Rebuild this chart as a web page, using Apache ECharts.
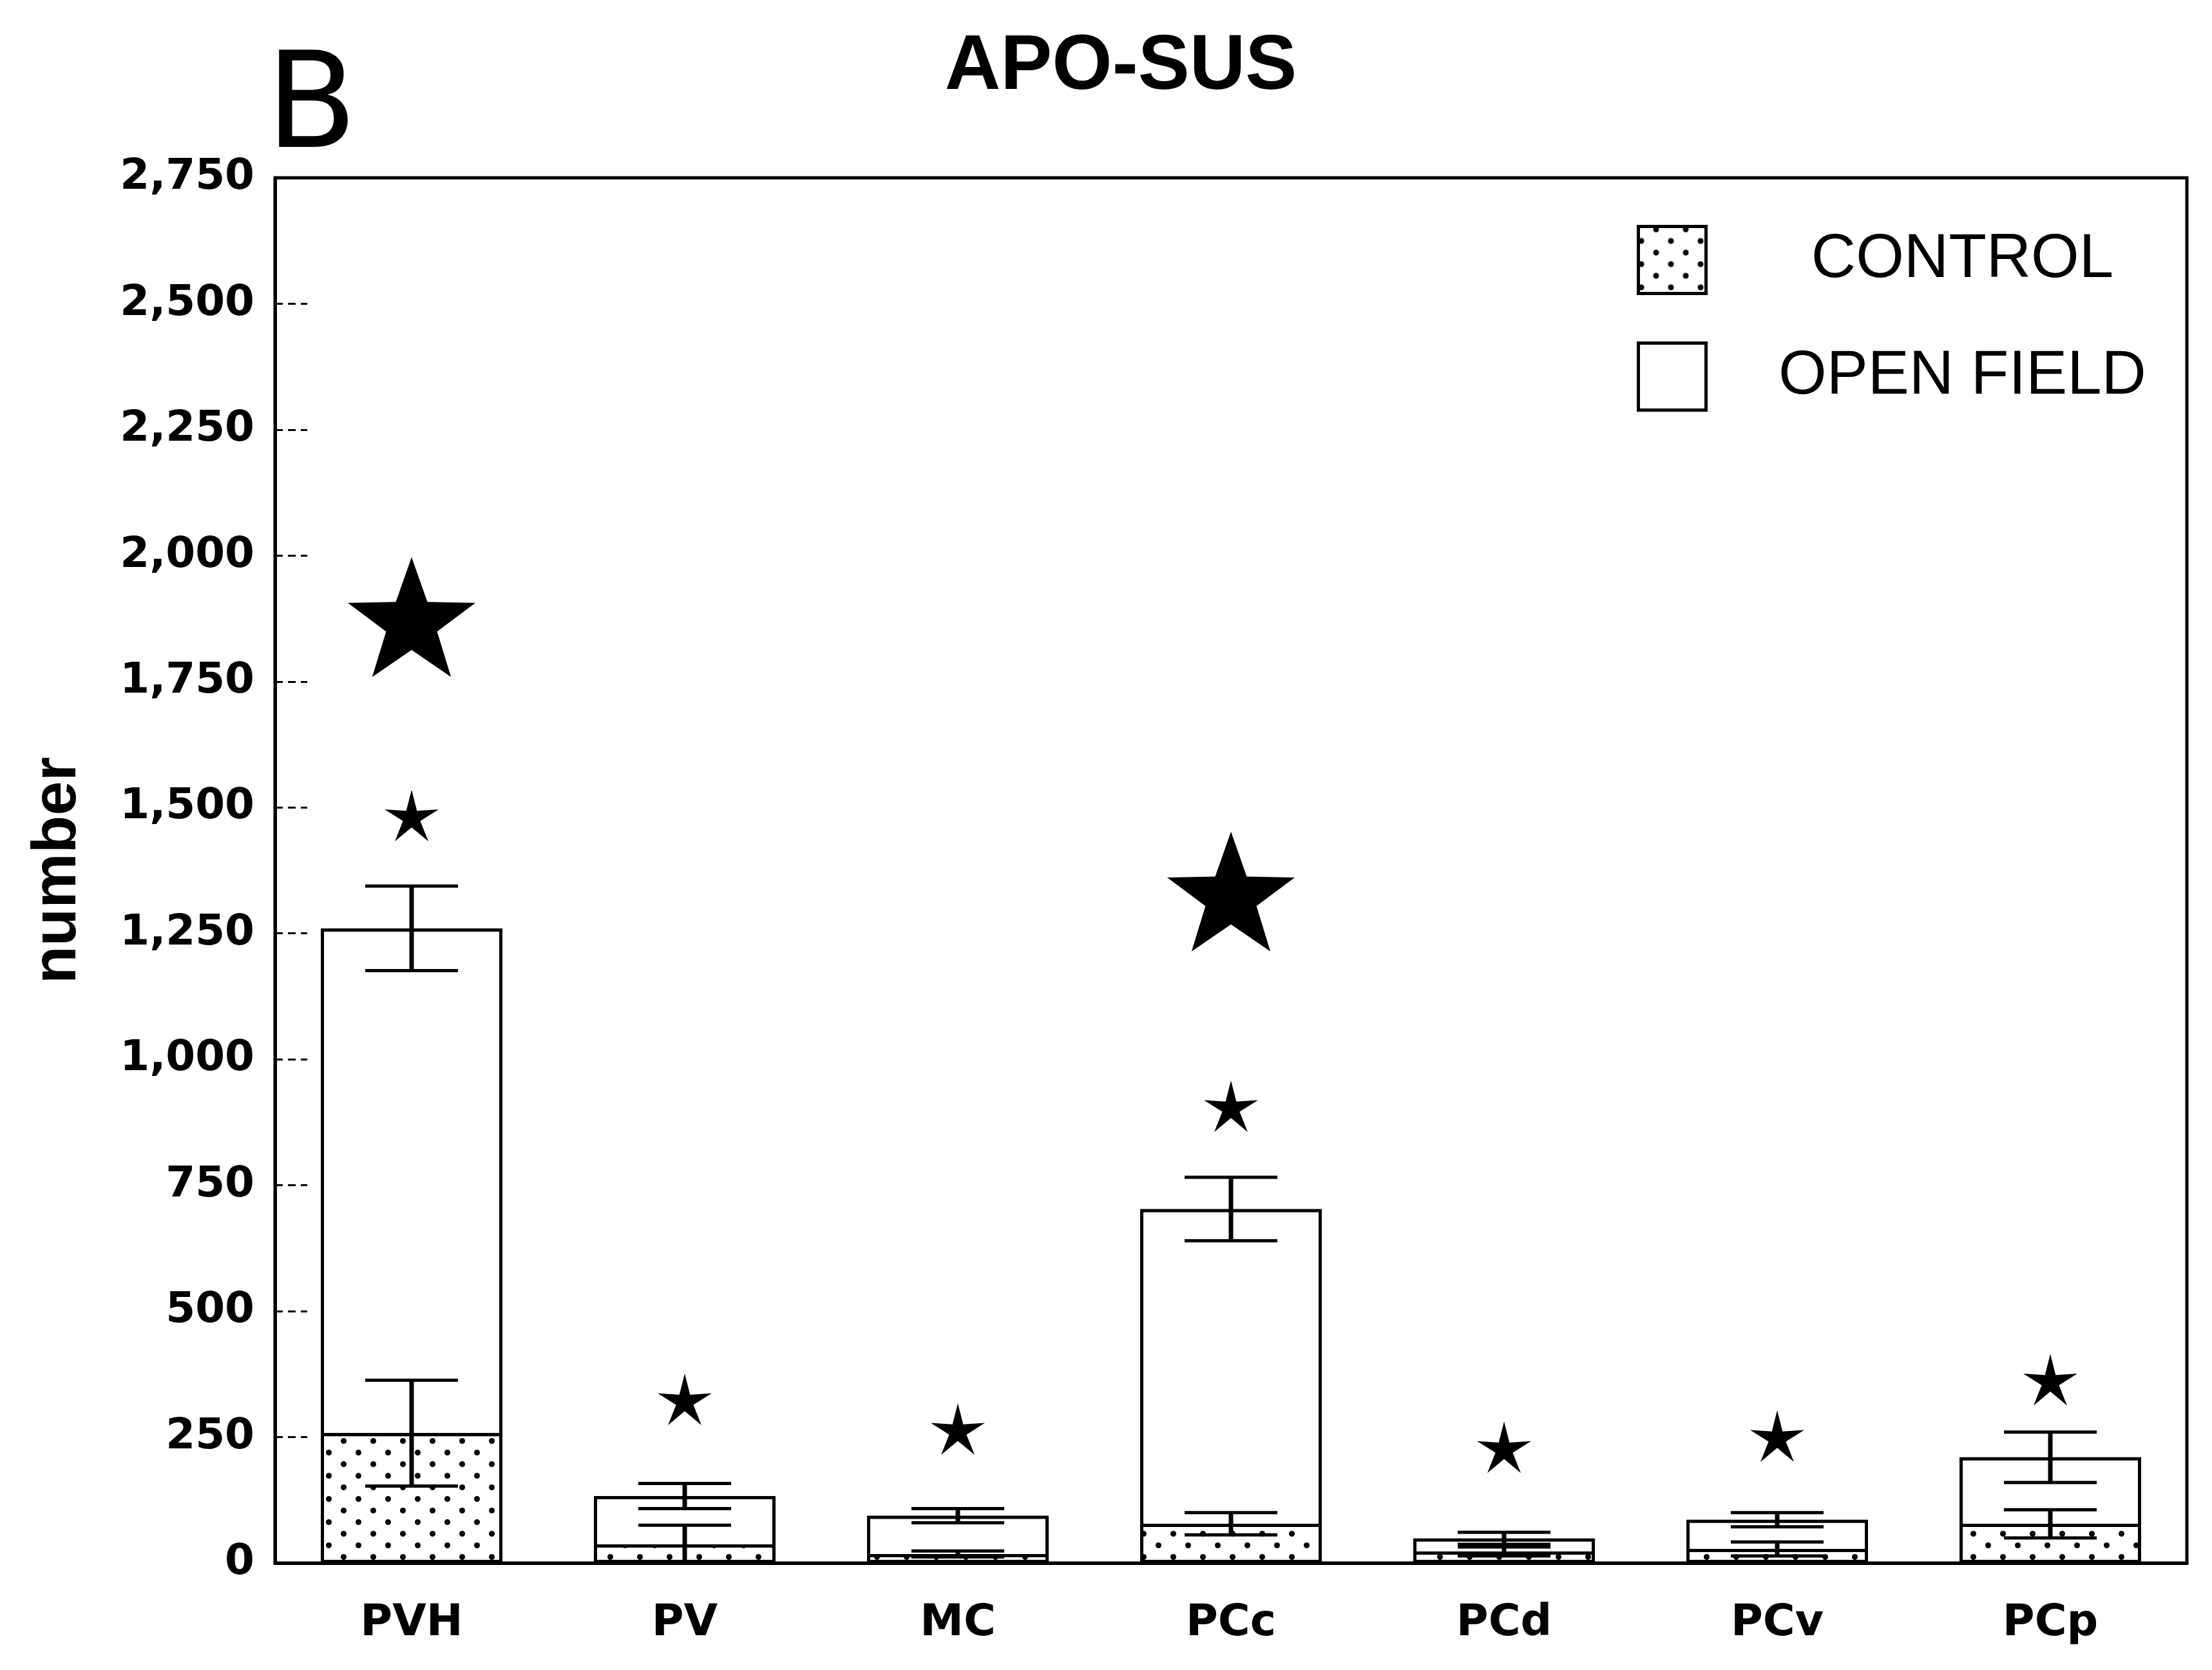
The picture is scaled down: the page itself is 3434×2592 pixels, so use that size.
<!DOCTYPE html>
<html>
<head>
<meta charset="utf-8">
<title>APO-SUS</title>
<script src="https://cdn.jsdelivr.net/npm/echarts@6/dist/echarts.min.js"></script>
<style>
  html, body { margin: 0; padding: 0; background: #fff; }
  #chart { width: 3434px; height: 2592px; }
</style>
</head>
<body>
<div id="chart"></div>
<script>
// Regions of the paraventricular nucleus
const categories = ['PVH', 'PV', 'MC', 'PCc', 'PCd', 'PCv', 'PCp'];

// Mean number of labelled cells and SEM per group
const openField    = [1260, 133, 94, 703, 49, 86, 210];
const openFieldSem = [84, 25, 14, 63, 12, 14, 50];
const control      = [258, 37, 18, 78, 23, 28, 78];
const controlSem   = [105, 38, 6, 22, 9, 14, 28];

// Significance markers (height in data units, '-' where absent)
const bigStarY  = [1878, '-', '-', 1333, '-', '-', '-'];
const asteriskY = [1484, 325, 266, 907, 230, 252, 364];

// Y axis tick labels
const yTickLabels = ['0', '250', '500', '750', '1,000', '1,250', '1,500',
                     '1,750', '2,000', '2,250', '2,500', '2,750'];

// five-pointed star outline in a 100x100 box
function starPath(innerRatio) {
  const pts = [];
  for (let k = 0; k < 10; k++) {
    const r = (k % 2 === 0 ? 50 : 50 * innerRatio);
    const a = -Math.PI / 2 + k * Math.PI / 5;
    pts.push((50 + r * Math.cos(a)).toFixed(2) + ' ' + (50 + r * Math.sin(a)).toFixed(2));
  }
  return 'path://M' + pts.join(' L') + ' Z';
}

const chart = echarts.init(document.getElementById('chart'), null, { renderer: 'canvas' });

const dots = {
  symbol: 'circle',
  symbolSize: 1,
  color: '#000',
  backgroundColor: '#fff',
  dashArrayX: [[9, 37], [0, 23, 9, 14]],
  dashArrayY: [9, 9]
};

function errorBars(means, sems) {
  return means.map((m, i) => [i, m, sems[i]]);
}

function renderError(params, api) {
  const i = api.value(0), m = api.value(1), s = api.value(2);
  const top = api.coord([i, m + s]);
  const bot = api.coord([i, Math.max(0, m - s)]);
  const half = 72;
  const stem = { stroke: '#000', lineWidth: 7, fill: null };
  const cap = { stroke: '#000', lineWidth: 5, fill: null };
  return {
    type: 'group',
    children: [
      { type: 'line', shape: { x1: top[0], y1: top[1], x2: bot[0], y2: bot[1] }, style: stem },
      { type: 'line', shape: { x1: top[0] - half, y1: top[1], x2: top[0] + half, y2: top[1] }, style: cap },
      { type: 'line', shape: { x1: bot[0] - half, y1: bot[1], x2: bot[0] + half, y2: bot[1] }, style: cap }
    ]
  };
}

const option = {
  backgroundColor: '#fff',
  animation: false,
  title: [
    {
      text: 'B',
      left: 408,
      top: 66,
      textStyle: { fontFamily: 'DejaVu Sans', fontSize: 206, fontWeight: 'normal', color: '#000' }
    },
    {
      text: 'APO-SUS',
      left: 1735,
      textAlign: 'center',
      top: 40,
      textStyle: { fontFamily: 'Liberation Sans', fontSize: 120, fontWeight: 'bold', color: '#000' }
    }
  ],
  legend: {
    orient: 'vertical',
    left: 2536,
    top: 344,
    itemWidth: 105,
    itemHeight: 104,
    itemGap: 72,
    icon: 'rect',
    itemStyle: { borderWidth: 5, borderColor: '#000' },
    data: ['CONTROL', 'OPEN FIELD'],
    formatter: name => '{t|' + name + '}',
    textStyle: {
      rich: {
        t: { width: 786, align: 'center', fontFamily: 'Liberation Sans', fontSize: 96, color: '#000' }
      }
    }
  },
  grid: {
    left: 427,
    right: 39,
    top: 276,
    bottom: 166,
    show: true,
    borderColor: '#000',
    borderWidth: 5,
    backgroundColor: '#fff'
  },
  xAxis: {
    type: 'category',
    data: categories,
    axisLine: { lineStyle: { color: '#000', width: 5 } },
    axisTick: { show: false },
    axisLabel: {
      margin: 60,
      fontFamily: 'DejaVu Sans',
      fontWeight: 'bold',
      fontSize: 68,
      color: '#000'
    }
  },
  yAxis: {
    type: 'value',
    min: 0,
    max: 2750,
    interval: 250,
    name: 'number',
    nameLocation: 'middle',
    nameRotate: 90,
    nameGap: 288,
    nameTextStyle: { fontFamily: 'Liberation Sans', fontWeight: 'bold', fontSize: 96, color: '#000' },
    splitLine: { show: false },
    axisLine: { show: true, lineStyle: { color: '#000', width: 5 } },
    axisTick: { show: true, inside: true, length: 50, lineStyle: { color: '#000', width: 3, type: [12, 8] } },
    axisLabel: {
      margin: 32,
      fontFamily: 'DejaVu Sans',
      fontWeight: 'bold',
      fontSize: 66,
      color: '#000',
      formatter: v => yTickLabels[Math.round(v / 250)]
    }
  },
  series: [
    {
      name: 'OPEN FIELD',
      type: 'bar',
      data: openField,
      barWidth: 282,
      barGap: '-100%',
      itemStyle: { color: '#fff', borderColor: '#000', borderWidth: 5 },
      z: 2
    },
    {
      name: 'CONTROL',
      type: 'bar',
      data: control,
      barWidth: 282,
      barGap: '-100%',
      itemStyle: { color: '#fff', borderColor: '#000', borderWidth: 5, decal: dots },
      z: 3
    },
    {
      name: 'open field sem',
      type: 'custom',
      data: errorBars(openField, openFieldSem),
      renderItem: renderError,
      z: 4
    },
    {
      name: 'control sem',
      type: 'custom',
      data: errorBars(control, controlSem),
      renderItem: renderError,
      z: 5
    },
    {
      name: 'major significance',
      type: 'scatter',
      data: bigStarY,
      symbol: starPath(0.4),
      symbolSize: [198, 186],
      itemStyle: { color: '#000', opacity: 1 },
      z: 6
    },
    {
      name: 'significance',
      type: 'scatter',
      data: asteriskY,
      symbol: starPath(0.32),
      symbolSize: [84, 80],
      itemStyle: { color: '#000', opacity: 1 },
      z: 6
    }
  ]
};

chart.setOption(option);
</script>
</body>
</html>
